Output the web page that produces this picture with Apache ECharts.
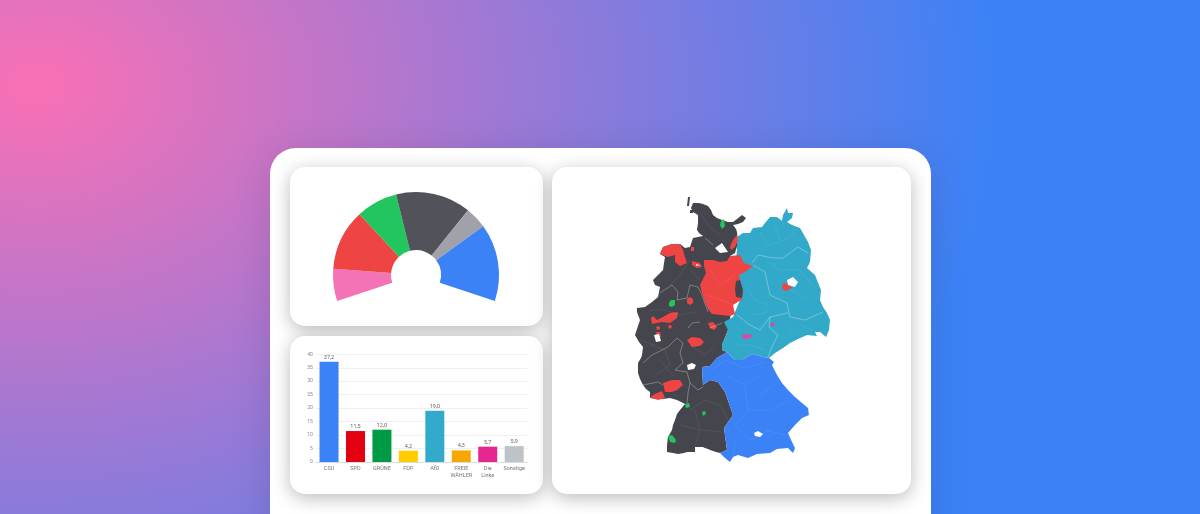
<!DOCTYPE html>
<html><head><meta charset="utf-8">
<script src="https://cdn.jsdelivr.net/npm/echarts@6/dist/echarts.min.js"></script>
<style>
html,body{margin:0;padding:0;width:1200px;height:514px;overflow:hidden;
background:radial-gradient(ellipse 960px 720px at 35px 85px,#fa70b5 0%,#3c82f6 100%);}
#c{position:absolute;left:0;top:0;width:1200px;height:514px;filter:blur(.5px);}
</style></head><body><div id="c"></div>
<script>
// Bar chart
const parties=['CSU','SPD','GRÜNE','FDP','AfD','FREIE\nWÄHLER','Die\nLinke','Sonstige'];
const shares=[37.2,11.5,12.0,4.2,19.0,4.3,5.7,5.9];
const partyColors=['#3b82f6','#e3000f','#009a44','#ffcc00','#33aacc','#f7a800','#e6278f','#bdc3c7'];
// Seat gauge
const seatNames=['Pink','Rot','Grün','Anthrazit','Grau','Blau'];
const seats=[22.7,42.7,29,52.7,15.3,54.1];
const seatColors=['#f472b6','#ef4444','#22c55e','#52525b','#a1a1aa','#3b82f6'];
// Map outlines, in the picture's own map units
const regionDark=[[693,203],[699,203],[703,204],[708,206],[711,210],[713,215],[717,218],[722,220],[728,222],[733,222],[737,219],[742,215],[746,218],[743,222],[738,224],[733,225],[736,229],[737,232],[738,243],[735,253],[730,256],[735,290],[728,330],[722,345],[722,350],[727,352],[717,358],[710,366],[702,367],[703,385],[710,380],[718,382],[725,392],[733,415],[724,428],[727,450],[720,453],[716,452],[710,450],[702,447],[695,447],[695,452],[687,452],[684,453],[678,454],[673,453],[667,452],[667,445],[668,437],[672,430],[673,425],[675,420],[677,414],[680,410],[685,404],[677,400],[670,398],[663,399],[656,399],[650,398],[650,392],[646,389],[643,385],[640,379],[638,373],[638,363],[641,358],[642,355],[643,347],[639,342],[635,335],[637,329],[640,320],[637,312],[637,308],[645,307],[652,302],[658,297],[659,292],[660,287],[655,285],[653,280],[658,275],[663,270],[664,263],[665,257],[660,254],[663,247],[672,244],[680,244],[685,248],[690,247],[693,238],[698,237],[703,236],[699,233],[697,230],[698,223],[698,215],[693,212],[691,208]];
const islandA=[[688,197],[690,197],[689,206],[687,206]];
const islandB=[[690,210],[693,210],[693,213],[690,213]];
const regionTeal=[[737,237],[743,233],[750,233],[753,228],[762,227],[765,223],[770,217],[777,217],[782,221],[783,215],[787,208],[788,213],[793,213],[792,218],[787,222],[792,225],[800,228],[804,235],[808,242],[811,250],[810,262],[807,268],[815,275],[817,280],[821,290],[820,300],[823,307],[827,313],[830,320],[829,330],[826,337],[820,332],[815,332],[817,336],[807,335],[798,339],[790,343],[783,348],[775,353],[769,358],[763,357],[752,354],[742,360],[735,360],[727,352],[722,350],[722,345],[728,330],[724,322],[733,317],[740,300],[735,270],[737,250]];
const regionRed=[[704,260],[713,260],[720,262],[727,261],[730,256],[740,255],[744,263],[753,266],[745,272],[739,275],[741,285],[743,295],[741,300],[733,305],[735,314],[730,316],[721,315],[712,314],[708,309],[705,302],[702,293],[700,285],[703,279],[706,273],[704,266]];
const regionBlue=[[702,367],[710,366],[717,358],[727,352],[735,360],[742,360],[752,354],[763,357],[769,358],[774,362],[772,365],[777,375],[782,383],[788,390],[795,397],[802,403],[808,408],[809,415],[802,418],[795,425],[788,433],[792,442],[795,448],[793,453],[788,448],[777,449],[770,453],[757,454],[748,458],[738,455],[733,457],[730,462],[725,458],[720,453],[727,450],[724,428],[733,415],[725,392],[718,382],[710,380],[703,385]];
const darkBlob=[[736,281],[740,280],[743,290],[742,298],[736,297],[735,289]];
const redPatches=[
 [[680,244],[672,244],[663,247],[660,254],[668,257],[675,255],[675,262],[680,266],[687,263],[685,257],[683,250]],
 [[691,247],[694,247],[694,251],[691,251]],
 [[692,261],[700,263],[702,267],[697,268],[692,265]],
 [[730,247],[733,240],[737,235],[738,240],[735,247],[731,250]],
 [[687,299],[690,297],[693,299],[693,303],[690,305],[687,303]],
 [[651,318],[653,316],[657,320],[663,317],[670,313],[678,312],[677,318],[670,323],[662,322],[657,323],[652,324]],
 [[656,327],[658,326],[660,327],[660,329],[657,330]],
 [[669,325],[671,325],[672,327],[670,329],[668,327]],
 [[656,332],[660,332],[661,337],[657,337]],
 [[687,340],[692,337],[700,338],[704,342],[700,346],[692,347]],
 [[708,323],[713,322],[717,327],[714,330],[710,328]],
 [[663,383],[672,380],[680,380],[683,385],[677,390],[672,392],[665,392]],
 [[650,397],[655,394],[662,391],[665,398],[658,400],[652,398]],
 [[783,283],[788,284],[792,288],[785,291],[782,288]]
];
const greenPatches=[
 [[721,221],[724,219],[725,226],[722,229],[720,225]],
 [[669,303],[671,300],[675,300],[675,305],[672,307],[669,306]],
 [[685,404],[689,403],[690,407],[686,408]],
 [[702,412],[705,411],[706,414],[703,416]],
 [[668,436],[672,435],[676,440],[675,443],[670,442]]
];
const whitePatches=[
 [[715,248],[722,243],[728,252],[720,253]],
 [[696,264],[700,265],[700,266],[696,266]],
 [[654,335],[659,334],[661,341],[656,342]],
 [[687,365],[692,363],[696,365],[694,369],[688,370]],
 [[754,433],[758,431],[763,434],[760,437],[755,436]],
 [[787,280],[793,277],[798,282],[795,287],[788,285]],
 [[702,447],[710,450],[708,451],[702,449]]
];
const pinkPatches=[
 [[742,335],[746,334],[752,335],[751,338],[745,339],[742,338]],
 [[770,323],[774,323],[775,326],[771,326]]
];
// State borders and faint district lines
const stateLines=[
 [[752,263],[758,255],[773,258],[783,258],[798,247],[808,253]],
 [[753,265],[765,272],[770,295],[787,303],[790,317],[805,320],[823,312]],
 [[737,315],[750,325],[760,330],[770,317],[788,313]],
 [[770,317],[769,327],[778,335],[772,347],[768,357]],
 [[690,383],[688,393],[687,403]],
 [[690,383],[698,390],[703,387]],
 [[643,363],[652,355],[668,347],[677,338],[683,343],[680,353],[683,363],[675,370],[687,372],[690,383]],
 [[643,385],[658,382],[663,385]],
 [[660,293],[672,285],[678,292],[677,300],[687,298],[690,285],[698,287],[702,295]],
 [[705,238],[713,245]],
 [[702,295],[708,312]],
 [[700,322],[692,323],[688,328]],
 [[710,328],[722,323]]
];
const darkFaint=[
 [[700,212],[708,225],[720,235]],[[690,260],[680,275],[670,285]],[[700,280],[690,270]],[[650,345],[665,350],[670,365],[655,375]],
 [[690,345],[705,355],[715,345]],[[690,410],[705,400],[720,405],[728,420]],[[680,425],[700,430],[722,432]],[[695,410],[700,430],[695,447]],
 [[650,310],[665,310],[680,315],[695,312]],[[660,360],[675,378]],[[640,340],[655,345]],
 [[710,270],[720,285],[735,275]],[[705,295],[722,300],[733,305]]
];
const tealFaint=[
 [[760,232],[768,245],[785,240],[795,232]],[[775,225],[780,240]],[[770,262],[780,270],[800,270],[812,285]],[[790,290],[810,300]],
 [[745,285],[755,300],[768,305]],[[752,315],[768,312]],[[735,345],[750,345],[765,350]],[[785,325],[795,335]],[[800,325],[812,330]]
];
const blueFaint=[
 [[725,375],[745,385],[760,375]],[[745,385],[748,410],[770,410],[790,400]],[[748,410],[735,425],[750,440],[770,430]],
 [[712,370],[725,360],[745,368],[765,362]],[[760,395],[775,385]],[[735,440],[733,455]],[[765,430],[785,435]]
];

const features=[];
function add(name,rings){features.push({type:'Feature',properties:{name:name},geometry:{type:'MultiPolygon',coordinates:rings.map(r=>[r.concat([r[0]])])}});}
add('dark',[regionDark,islandA,islandB]);
add('teal',[regionTeal]);
add('blue',[regionBlue]);
add('red',[regionRed]);
add('darkBlob',[darkBlob]);
add('redPatches',redPatches);
add('greenPatches',greenPatches);
add('whitePatches',whitePatches);
add('pinkPatches',pinkPatches);
echarts.registerMap('de',{type:'FeatureCollection',features:features});
const regionStyle=(n,c)=>({name:n,itemStyle:{areaColor:c,borderWidth:0},silent:true});
const toLines=a=>a.map(l=>({coords:l}));
const linesSeries=(a,color,w)=>({type:'lines',coordinateSystem:'geo',polyline:true,silent:true,symbol:'none',data:toLines(a),lineStyle:{color:color,width:w,opacity:1},z:5});

const panel=(x,y,w,h)=>({type:'rect',shape:{x:x,y:y,width:w,height:h,r:15},style:{fill:'#fff',shadowBlur:18,shadowColor:'rgba(0,0,0,.27)',shadowOffsetY:4},silent:true});
const chart=echarts.init(document.getElementById('c'),null,{renderer:'canvas'});
chart.setOption({
 animation:false,backgroundColor:'transparent',
 textStyle:{fontFamily:'Roboto, Arial, sans-serif'},
 graphic:[
  {type:'rect',shape:{x:270,y:148,width:661,height:420,r:26},style:{fill:'#fff',shadowBlur:40,shadowColor:'rgba(0,0,0,.12)',shadowOffsetY:6},silent:true},
  panel(290,167,253,159),panel(290,336,253,158),panel(552,167,359,327)
 ],
 geo:{map:'de',silent:true,roam:false,aspectScale:1,
  projection:{project:p=>p,unproject:p=>p},
  boundingCoords:[[630,190],[835,470]],left:630,top:190,width:205,height:280,
  label:{show:false},emphasis:{disabled:true},
  itemStyle:{areaColor:'#45454d',borderWidth:0},
  regions:[regionStyle('dark','#45454d'),regionStyle('teal','#33a9c9'),regionStyle('blue','#3b82f6'),regionStyle('red','#ef4444'),regionStyle('darkBlob','#45454d'),regionStyle('redPatches','#ef4444'),regionStyle('greenPatches','#22c55e'),regionStyle('whitePatches','#ffffff'),regionStyle('pinkPatches','#d94aa6')]},
 grid:{left:315.8,top:354.3,width:211.6,height:107.7,containLabel:false},
 xAxis:{type:'category',data:parties,
  axisTick:{show:false},axisLine:{lineStyle:{color:'#dcdcdc',width:1}},
  axisLabel:{interval:0,fontSize:5.5,color:'#777',margin:3,lineHeight:7}},
 yAxis:{type:'value',min:0,max:40,interval:5,
  axisLine:{show:false},axisTick:{show:false},
  splitLine:{lineStyle:{color:'#f0f0f0',width:1}},
  axisLabel:{fontSize:5,color:'#888',margin:3}},
 series:[
  {type:'pie',center:[416,275],radius:[25,83],startAngle:198.3,endAngle:-18.2,silent:true,
   label:{show:false},labelLine:{show:false},
   data:seatNames.map((n,i)=>({name:n,value:seats[i],itemStyle:{color:seatColors[i]}}))},
  {type:'bar',barWidth:19,silent:true,
   data:shares.map((v,i)=>({value:v,itemStyle:{color:partyColors[i]}})),
   label:{show:true,position:'top',distance:1.5,fontSize:5.5,color:'#666',formatter:p=>p.value.toFixed(1).replace('.',',')}},
  linesSeries(stateLines,'rgba(255,255,255,.5)',.6),
  linesSeries(darkFaint.concat(tealFaint,blueFaint),'rgba(255,255,255,.14)',.5)
 ]
});
</script></body></html>
